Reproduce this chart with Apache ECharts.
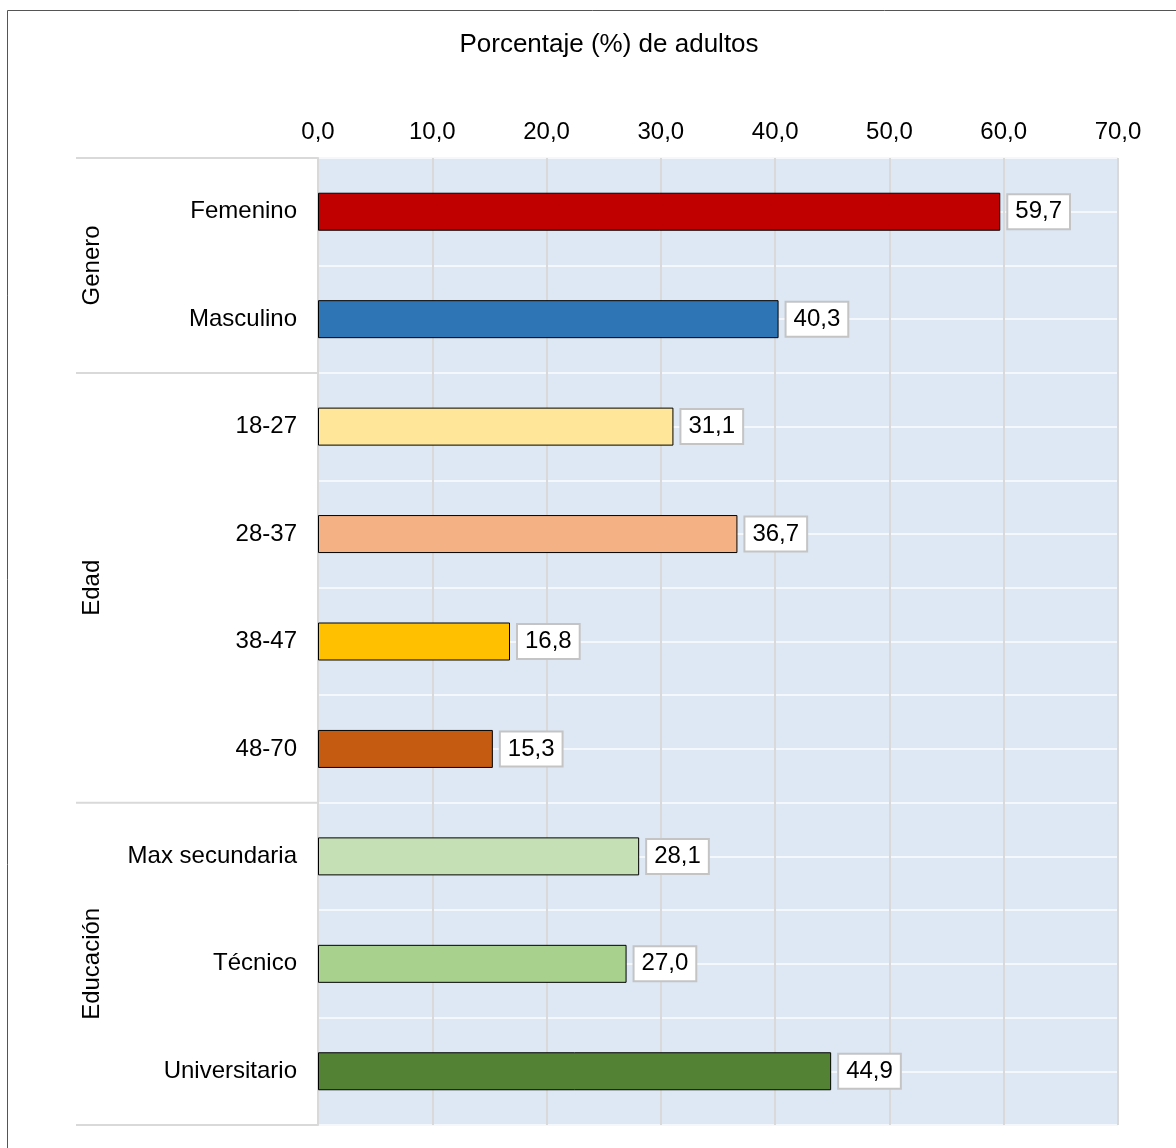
<!DOCTYPE html>
<html>
<head>
<meta charset="utf-8">
<script src="https://cdn.jsdelivr.net/npm/echarts@6/dist/echarts.min.js"></script>
<style>
  html, body { margin: 0; padding: 0; background: #ffffff; }
  #chart { width: 1176px; height: 1148px; }
</style>
</head>
<body>
<div id="chart"></div>
<script>
// Share of adults (%) by gender, age and education
const categories = ['Femenino', 'Masculino', '18-27', '28-37', '38-47', '48-70', 'Max secundaria', 'Técnico', 'Universitario'];
const values = [59.7, 40.3, 31.1, 36.7, 16.8, 15.3, 28.1, 27.0, 44.9];
const barColors = ['#c00000', '#2e75b6', '#ffe699', '#f4b183', '#ffc000', '#c55a11', '#c5e0b4', '#a9d18e', '#548235'];
const groupNames = ['Genero', 'Edad', 'Educación'];
const groupFirst = [0, 2, 6];
const groupLast = [1, 5, 8];
const axisTitle = 'Porcentaje (%) de adultos';

const FONT = '"Liberation Sans", Arial, Helvetica, sans-serif';
const fmt = v => v.toFixed(1).replace('.', ',');

const GRID = { left: 318, right: 58, top: 158, bottom: 23 };

const chart = echarts.init(document.getElementById('chart'), null, { renderer: 'canvas' });

chart.setOption({
  animation: false,
  backgroundColor: '#ffffff',
  textStyle: { fontFamily: FONT },
  grid: {
    left: GRID.left, right: GRID.right, top: GRID.top, bottom: GRID.bottom,
    show: true, backgroundColor: '#dde8f4', borderWidth: 0
  },
  xAxis: {
    type: 'value',
    position: 'top',
    min: 0, max: 70, interval: 10,
    axisLine: { show: false },
    axisTick: { show: false },
    axisLabel: {
      margin: 14,
      fontFamily: FONT, fontSize: 24, color: '#000000',
      formatter: v => fmt(v)
    },
    splitLine: { show: true, lineStyle: { color: '#d9d9d9', width: 2 } }
  },
  yAxis: [
    {
      type: 'category',
      data: categories,
      inverse: true,
      axisLine: { show: true, lineStyle: { color: '#d9d9d9', width: 2 } },
      axisTick: { show: false },
      axisLabel: { margin: 21, fontFamily: FONT, fontSize: 24, color: '#000000' },
      splitLine: { show: false }
    },
    {
      // light row guides through every band edge and band centre
      type: 'value',
      min: 0, max: categories.length * 2, interval: 1,
      position: 'right',
      axisLine: { show: false },
      axisTick: { show: false },
      axisLabel: { show: false },
      splitLine: { show: true, lineStyle: { color: '#f4f7fb', width: 2 } }
    }
  ],
  series: [{
    type: 'bar',
    yAxisIndex: 0,
    barWidth: 38,
    data: values.map((v, i) => ({ value: v, itemStyle: { color: barColors[i] } })),
    itemStyle: { borderColor: '#000000', borderWidth: 1 },
    label: {
      show: true,
      position: 'right',
      distance: 8,
      formatter: p => fmt(p.value),
      fontFamily: FONT, fontSize: 24, color: '#000000',
      backgroundColor: '#ffffff',
      borderColor: '#c4c4c4', borderWidth: 2,
      padding: [6, 7, 3, 7]
    }
  }]
});

// Axis title, group labels and separators for the left-hand category panel
function drawGroups() {
  const c0 = chart.convertToPixel({ yAxisIndex: 0 }, categories[0]);
  const c1 = chart.convertToPixel({ yAxisIndex: 0 }, categories[1]);
  const band = c1 - c0;
  const xLeft = 76, xRight = GRID.left;
  const elements = [];
  const edges = [];
  elements.push({
    type: 'text',
    x: 609, y: 45,
    style: {
      text: axisTitle,
      fontFamily: FONT, fontSize: 26, fill: '#000000',
      align: 'center', verticalAlign: 'middle'
    }
  });
  groupNames.forEach((name, g) => {
    const top = chart.convertToPixel({ yAxisIndex: 0 }, categories[groupFirst[g]]) - band / 2;
    const bottom = chart.convertToPixel({ yAxisIndex: 0 }, categories[groupLast[g]]) + band / 2;
    if (g === 0) edges.push(top);
    edges.push(bottom);
    elements.push({
      type: 'text',
      x: 92, y: (top + bottom) / 2,
      rotation: Math.PI / 2,
      style: {
        text: name,
        fontFamily: FONT, fontSize: 24, fill: '#000000',
        align: 'center', verticalAlign: 'middle'
      }
    });
  });
  edges.forEach(y => {
    elements.push({
      type: 'line',
      shape: { x1: xLeft, y1: y, x2: xRight, y2: y },
      style: { stroke: '#d9d9d9', lineWidth: 2 }
    });
  });
  // outer frame
  elements.push({
    type: 'rect',
    shape: { x: 7.5, y: 10.5, width: 1200, height: 1200 },
    style: { fill: 'none', stroke: '#555555', lineWidth: 1 },
    silent: true
  });
  chart.setOption({ graphic: elements });
}
drawGroups();
</script>
</body>
</html>
